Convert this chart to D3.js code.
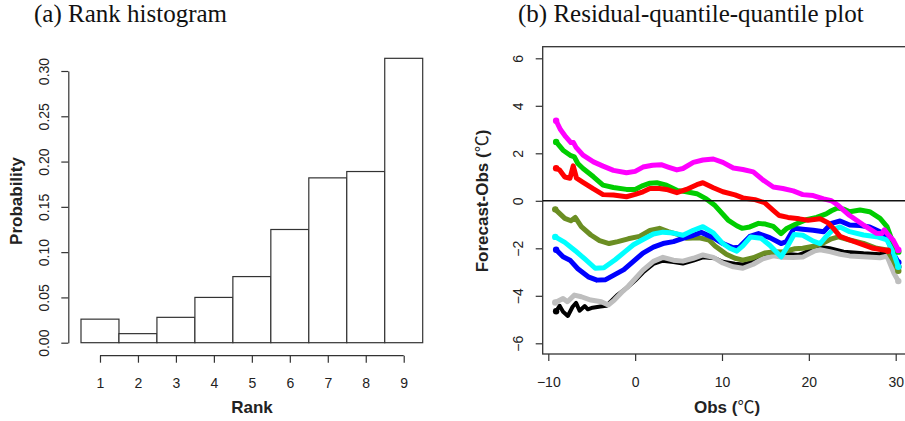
<!DOCTYPE html>
<meta charset="utf-8">
<head>
  <title>Rank histogram and residual QQ plot</title>
</head>
<style>
body { margin: 0; background: #fff; }
.title { font-family: "Liberation Serif", "Times New Roman", serif; font-size: 25px; fill: #111; }
.axis text { font-family: "Liberation Sans", Arial, sans-serif; font-size: 14px; fill: #222; }
.axis path, .axis line { stroke: #333; stroke-width: 1.2px; }
.label { font-family: "Liberation Sans", Arial, sans-serif; font-size: 17px; font-weight: bold; fill: #222; }
.deg { font-family: "Noto Sans CJK SC", "DejaVu Sans", sans-serif; font-weight: normal; }
.bar { fill: #fff; stroke: #333; stroke-width: 1.2px; }
.series { fill: none; stroke-linejoin: round; stroke-linecap: round; }
</style>
<body>
<svg width="905" height="421"></svg>

<script src="https://cdnjs.cloudflare.com/ajax/libs/d3/7.8.5/d3.min.js"></script>
<script>
// (a) rank histogram
var ranks = [1, 2, 3, 4, 5, 6, 7, 8, 9];
var probs = [0.026, 0.010, 0.028, 0.050, 0.073, 0.125, 0.182, 0.189, 0.314];
var probTicks = [0, 0.05, 0.10, 0.15, 0.20, 0.25, 0.30];

// (b) residual quantile-quantile curves, [obs, forecast - obs]
var black = [[-9.1,-4.65],[-8.7,-4.42],[-8.3,-4.67],[-7.75,-4.85],[-7.2,-4.46],[-6.8,-4.3],[-6.4,-4.63],[-5.8,-4.43],[-5.45,-4.57],[-4.9,-4.5],[-4.0,-4.45],[-3.3,-4.42],[-2.1,-3.98],[-1.0,-3.68],[0,-3.36],[0.9,-3.02],[2.1,-2.66],[3.2,-2.52],[4.4,-2.58],[5.5,-2.64],[6.7,-2.52],[7.8,-2.38],[9.2,-2.42],[10.1,-2.57],[11.5,-2.65],[12.4,-2.68],[13.6,-2.56],[14.7,-2.38],[15.9,-2.25],[17.0,-2.22],[18.8,-2.28],[19.3,-2.22],[20.7,-1.95],[21.3,-1.94],[22.4,-2.0],[24.0,-2.14],[26.3,-2.21],[28.2,-2.25],[29.0,-2.14],[29.7,-2.49],[30.3,-2.78]];
var gray = [[-9.2,-4.28],[-8.3,-4.11],[-7.8,-4.25],[-7.0,-3.97],[-6.2,-4.04],[-5.1,-4.18],[-3.9,-4.25],[-3.1,-4.39],[-2.4,-4.18],[-1.4,-3.8],[-0.8,-3.6],[0,-3.28],[0.9,-2.92],[2.1,-2.55],[3.2,-2.38],[4.4,-2.5],[5.5,-2.54],[6.7,-2.42],[7.8,-2.28],[9.0,-2.38],[10.1,-2.62],[11.3,-2.78],[12.4,-2.84],[13.6,-2.67],[14.7,-2.44],[15.9,-2.32],[17.0,-2.38],[18.2,-2.39],[19.3,-2.37],[20.7,-2.1],[21.3,-2.06],[22.4,-2.14],[23.6,-2.25],[24.7,-2.32],[26.3,-2.36],[28.2,-2.4],[29.0,-2.33],[29.8,-3.05],[30.3,-3.38]];
var olive = [[-9.2,-0.36],[-8.1,-0.74],[-7.4,-0.84],[-6.9,-0.70],[-6.2,-1.09],[-5.1,-1.44],[-4.1,-1.68],[-3.0,-1.8],[-2.0,-1.72],[-0.8,-1.6],[0.5,-1.5],[1.7,-1.25],[2.8,-1.16],[3.8,-1.3],[4.8,-1.4],[5.9,-1.58],[7.4,-1.56],[8.5,-1.65],[9.2,-1.9],[10.5,-2.25],[11.5,-2.42],[12.4,-2.5],[13.6,-2.4],[14.9,-2.2],[15.9,-2.15],[16.9,-2.16],[18.4,-2.02],[19.3,-2.0],[20.7,-1.9],[21.7,-1.77],[22.6,-1.6],[23.4,-1.52],[24.7,-1.65],[26.3,-1.79],[27.8,-2.0],[29.0,-2.07],[29.7,-2.49],[30.3,-2.95]];
var blue = [[-9.1,-2.06],[-8.3,-2.36],[-7.5,-2.5],[-6.6,-2.86],[-5.4,-3.2],[-4.4,-3.34],[-3.4,-3.32],[-2.4,-3.12],[-1.3,-2.9],[-0.2,-2.55],[0.9,-2.2],[2.1,-1.95],[3.2,-1.8],[4.4,-1.72],[5.5,-1.58],[6.7,-1.45],[7.6,-1.33],[9.0,-1.55],[10.1,-1.8],[11.3,-1.98],[12.0,-1.95],[13.2,-1.5],[14.2,-1.38],[15.5,-1.55],[16.8,-1.8],[17.4,-1.72],[18.3,-1.16],[19.3,-1.2],[20.5,-1.24],[21.7,-1.3],[22.6,-0.95],[23.6,-0.85],[24.7,-1.02],[25.9,-1.04],[27.0,-1.1],[28.2,-1.3],[29.0,-1.58],[29.7,-2.2],[30.3,-2.6]];
var cyan = [[-9.2,-1.52],[-8.1,-1.75],[-6.9,-2.1],[-5.8,-2.45],[-4.6,-2.84],[-3.6,-2.82],[-2.3,-2.48],[-1.2,-2.15],[-0.2,-1.85],[0.9,-1.63],[2.1,-1.4],[3.2,-1.32],[4.4,-1.36],[5.5,-1.45],[6.7,-1.24],[7.8,-1.09],[9.0,-1.35],[10.1,-1.8],[10.9,-2.0],[11.7,-2.12],[12.4,-1.9],[13.3,-1.52],[14.5,-1.58],[15.5,-1.87],[16.8,-2.36],[17.4,-2.01],[18.3,-1.42],[19.3,-1.45],[20.5,-1.7],[21.3,-1.8],[22.0,-1.5],[22.8,-1.21],[23.6,-1.1],[24.7,-1.3],[26.3,-1.44],[27.8,-1.51],[29.0,-1.65],[29.7,-2.14],[30.3,-2.78]];
var green = [[-9.1,2.48],[-8.3,2.13],[-7.4,1.9],[-7.0,1.85],[-6.6,1.57],[-6.0,1.36],[-4.8,1.01],[-3.7,0.66],[-2.5,0.56],[-1.0,0.48],[0,0.48],[0.9,0.64],[1.7,0.74],[2.5,0.76],[3.6,0.66],[4.8,0.44],[5.9,0.38],[7.1,0.3],[8.2,0.08],[9.2,-0.2],[10.7,-0.81],[11.7,-1.05],[12.3,-1.16],[13.2,-1.1],[14.2,-0.95],[15.0,-0.98],[15.9,-1.08],[16.8,-1.38],[17.4,-1.18],[18.4,-1.0],[19.7,-0.8],[20.9,-0.7],[22.0,-0.55],[22.6,-0.42],[23.3,-0.3],[24.0,-0.35],[24.7,-0.46],[25.9,-0.39],[27.0,-0.46],[28.2,-0.74],[29.0,-1.09],[29.5,-1.58],[30.3,-2.14]];
var red = [[-9.1,1.37],[-8.7,1.3],[-8.1,1.0],[-7.5,0.95],[-7.13,1.47],[-6.75,0.95],[-6.0,0.78],[-4.8,0.5],[-3.7,0.26],[-2.5,0.24],[-1.0,0.17],[0,0.27],[0.9,0.38],[1.7,0.52],[2.8,0.52],[3.6,0.48],[4.8,0.34],[5.9,0.48],[7.1,0.68],[7.8,0.76],[9.0,0.55],[10.1,0.38],[11.5,0.25],[12.4,0.12],[13.8,0.05],[14.9,-0.08],[15.9,-0.4],[16.6,-0.62],[17.6,-0.7],[18.9,-0.76],[19.9,-0.82],[21.3,-0.76],[22.2,-0.92],[22.8,-1.15],[23.6,-1.5],[24.7,-1.65],[26.3,-1.86],[27.4,-2.0],[28.6,-2.07],[29.1,-2.1]];
var magenta = [[-9.1,3.37],[-8.6,3.0],[-8.0,2.7],[-7.4,2.45],[-7.1,2.45],[-6.8,2.25],[-6.0,1.92],[-4.8,1.64],[-3.7,1.46],[-2.5,1.28],[-1.0,1.18],[0,1.24],[0.9,1.42],[2.0,1.5],[3.0,1.52],[3.8,1.42],[4.8,1.3],[5.5,1.36],[6.7,1.62],[7.8,1.72],[9.0,1.76],[10.1,1.62],[11.3,1.38],[12.4,1.32],[13.6,1.22],[14.7,0.88],[15.9,0.58],[17.0,0.52],[18.2,0.42],[19.3,0.26],[20.5,0.22],[21.7,0.08],[22.6,0.0],[23.4,-0.2],[24.7,-0.62],[26.3,-1.02],[27.8,-1.37],[28.4,-1.38],[28.7,-1.22],[29.1,-1.42],[29.7,-1.65],[30.3,-2.07]];

var obsTicks = [-10, 0, 10, 20, 30];
var resTicks = [-6, -4, -2, 0, 2, 4, 6];

var svg = d3.select("svg");

// ---------- panel a ----------
var xA = d3.scaleLinear().domain([0.5, 9.5]).range([81, 422.7]);
var yA = d3.scaleLinear().domain([0, 0.30]).range([342.7, 71]);

svg.append("text").attr("class", "title").attr("x", 34).attr("y", 22).text("(a) Rank histogram");

svg.append("g")
  .selectAll("rect")
  .data(ranks)
  .enter()
  .append("rect")
  .attr("class", "bar")
  .attr("x", function(d) { return xA(d - 0.5); })
  .attr("width", function(d) { return xA(d + 0.5) - xA(d - 0.5); })
  .attr("y", function(d, i) { return yA(probs[i]); })
  .attr("height", function(d, i) { return yA(0) - yA(probs[i]); });

var gxA = svg.append("g")
  .attr("class", "axis")
  .attr("transform", "translate(0,355.7)")
  .call(d3.axisBottom(xA).tickValues(ranks).tickSize(7).tickPadding(15).tickFormat(d3.format("d")));
gxA.select(".domain").attr("d", "M" + xA(1) + ",0H" + xA(9));

var gyA = svg.append("g")
  .attr("class", "axis")
  .attr("transform", "translate(68.3,0)")
  .call(d3.axisLeft(yA).tickValues(probTicks).tickSize(7).tickSizeOuter(0).tickFormat(d3.format(".2f")));
gyA.selectAll(".tick text")
  .attr("x", null).attr("dy", null)
  .attr("text-anchor", "middle")
  .attr("transform", "translate(-19,0) rotate(-90)");

svg.append("text").attr("class", "label")
  .attr("x", 252).attr("y", 413).attr("text-anchor", "middle").text("Rank");
svg.append("text").attr("class", "label")
  .attr("text-anchor", "middle")
  .attr("transform", "translate(22,201) rotate(-90)")
  .text("Probability");

// ---------- panel b ----------
var xB = d3.scaleLinear().domain([-10, 30]).range([548.3, 895.7]);
var yB = d3.scaleLinear().domain([-6, 6]).range([343.3, 58.3]);

svg.append("text").attr("class", "title").attr("x", 518).attr("y", 22).text("(b) Residual-quantile-quantile plot");

// plot box, runs off the right edge like the original
svg.append("rect")
  .attr("x", 542.7).attr("y", 46.7)
  .attr("width", 380).attr("height", 354 - 46.7)
  .attr("fill", "none").attr("stroke", "#333").attr("stroke-width", 1.3);

var gxB = svg.append("g")
  .attr("class", "axis")
  .attr("transform", "translate(0,354)")
  .call(d3.axisBottom(xB).tickValues(obsTicks).tickSize(7).tickPadding(16.4));
gxB.select(".domain").remove();

var gyB = svg.append("g")
  .attr("class", "axis")
  .attr("transform", "translate(542.7,0)")
  .call(d3.axisLeft(yB).tickValues(resTicks).tickSize(7));
gyB.select(".domain").remove();
gyB.selectAll(".tick text")
  .attr("x", null).attr("dy", null)
  .attr("text-anchor", "middle")
  .attr("transform", "translate(-20,0) rotate(-90)");

var curves = [
  {pts: black, color: "#000000", w: 4},
  {pts: gray, color: "#bebebe", w: 5},
  {pts: olive, color: "#6b8e23", w: 5},
  {pts: blue, color: "#0000ff", w: 5},
  {pts: cyan, color: "#00ffff", w: 5},
  {pts: green, color: "#00cd00", w: 5},
  {pts: red, color: "#ff0000", w: 5},
  {pts: magenta, color: "#ff00ff", w: 5}
];

var line = d3.line()
  .x(function(d) { return xB(d[0]); })
  .y(function(d) { return yB(d[1]); });

var lines = svg.append("g");
curves.forEach(function(c) {
  lines.append("path")
    .attr("class", "series")
    .attr("stroke", c.color)
    .attr("stroke-width", c.w)
    .attr("d", line(c.pts));
  lines.selectAll(null)
    .data([c.pts[0], c.pts[c.pts.length - 1]])
    .enter()
    .append("circle")
    .attr("cx", function(d) { return xB(d[0]); })
    .attr("cy", function(d) { return yB(d[1]); })
    .attr("r", 3.2)
    .attr("fill", c.color);
});

// zero reference line
svg.append("line")
  .attr("x1", 542.7).attr("x2", 905)
  .attr("y1", yB(0)).attr("y2", yB(0))
  .attr("stroke", "#111").attr("stroke-width", 1.6);

var obsLabel = svg.append("text").attr("class", "label")
  .attr("x", 727).attr("y", 413).attr("text-anchor", "middle");
obsLabel.append("tspan").text("Obs (");
obsLabel.append("tspan").attr("class", "deg").text("℃");
obsLabel.append("tspan").text(")");

var resLabel = svg.append("text").attr("class", "label")
  .attr("text-anchor", "middle")
  .attr("transform", "translate(488,201) rotate(-90)");
resLabel.append("tspan").text("Forecast-Obs (");
resLabel.append("tspan").attr("class", "deg").text("℃");
resLabel.append("tspan").text(")");
</script>
</body>
</html>
